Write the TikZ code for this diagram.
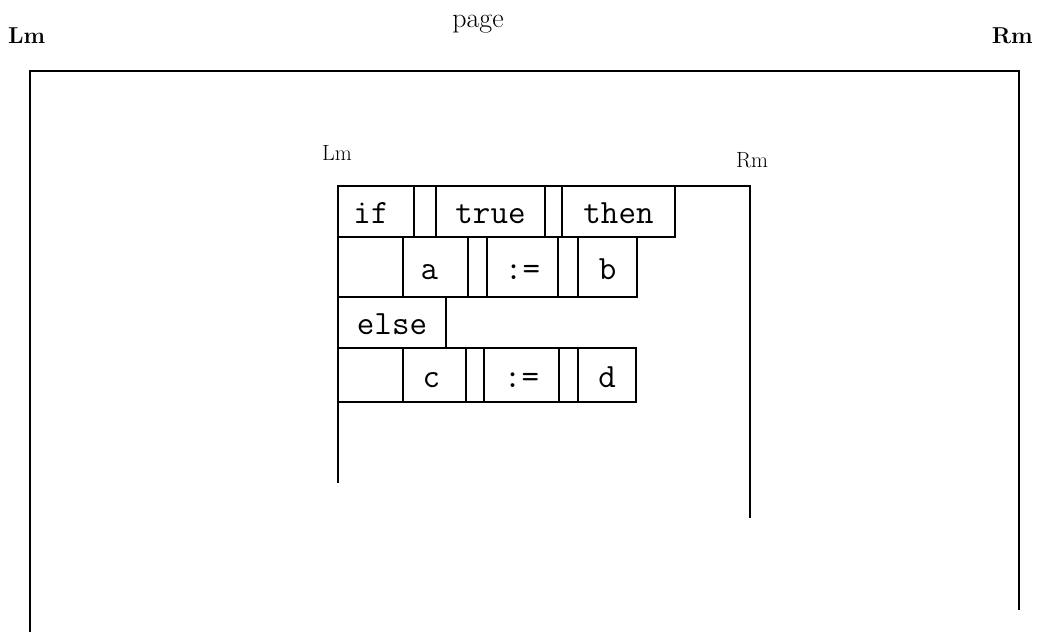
\documentclass[tikz,border=0pt]{standalone}
\usepackage{fontspec}
\begin{document}
\begin{tikzpicture}[x=1pt,y=-1pt,
  cell/.style={draw, line width=2.6pt, anchor=north west, inner sep=0pt, outer sep=0pt,
    text height=24pt, text depth=0pt, font=\ttfamily\fontsize{34}{34}\selectfont},
  frameline/.style={line width=2.8pt, line cap=butt, line join=miter},
  bigl/.style={font=\bfseries\fontsize{23}{23}\selectfont, inner sep=0pt},
  pagel/.style={font=\fontsize{28}{28}\selectfont, inner sep=0pt},
  smalll/.style={font=\fontsize{22}{22}\selectfont, inner sep=0pt}]
\useasboundingbox (0,0) rectangle (1037,632);
% outer page frame
\coordinate (oBL) at (30,632);
\coordinate (oTL) at (30,71);
\coordinate (oTR) at (1019,71);
\coordinate (oBR) at (1019,610);
\draw[frameline] (oBL) -- (oTL) -- (oTR) -- (oBR);
% inner frame
\coordinate (iBL) at (338,483);
\coordinate (iTL) at (338,186);
\coordinate (iTR) at (750,186);
\coordinate (iBR) at (750,518);
\draw[frameline, line width=2.6pt] (iBL) -- (iTL) -- (iTR) -- (iBR);
% labels
\node[bigl, anchor=base west] (Lmo) at (8,43) {Lm};
\node[pagel, anchor=base] (page) at (478,27) {page};
\node[bigl, anchor=base east] (Rmo) at (1033,43) {Rm};
\node[smalll, anchor=base west] (Lmi) at (322,160) {Lm};
\node[smalll, anchor=base west] (Rmi) at (736,167) {Rm};
% row 1
\node[cell, minimum width=76pt, minimum height=51pt] (if) at (338,186) {\hspace*{-10pt}if};
\node[cell, minimum width=22pt, minimum height=51pt] (g1) at (414,186) {};
\node[cell, minimum width=109pt, minimum height=51pt] (true) at (436,186) {true};
\node[cell, minimum width=17pt, minimum height=51pt] (g2) at (545,186) {};
\node[cell, minimum width=113pt, minimum height=51pt] (then) at (562,186) {then};
% row 2
\node[cell, minimum width=65pt, minimum height=60pt] (e1) at (338,237) {};
\node[cell, minimum width=65pt, minimum height=60pt] (a) at (403,237) {\hspace*{-12pt}a};
\node[cell, minimum width=19pt, minimum height=60pt] (g3) at (468,237) {};
\node[cell, minimum width=71pt, minimum height=60pt] (as1) at (487,237) {:=};
\node[cell, minimum width=20pt, minimum height=60pt] (g4) at (558,237) {};
\node[cell, minimum width=59pt, minimum height=60pt] (b) at (578,237) {b};
% row 3
\node[cell, minimum width=108pt, minimum height=51pt] (else) at (338,297) {else};
% row 4
\node[cell, minimum width=65pt, minimum height=54pt] (e2) at (338,348) {};
\node[cell, minimum width=63pt, minimum height=54pt] (c) at (403,348) {\hspace*{-6pt}c};
\node[cell, minimum width=18pt, minimum height=54pt] (g5) at (466,348) {};
\node[cell, minimum width=75pt, minimum height=54pt] (as2) at (484,348) {:=};
\node[cell, minimum width=19pt, minimum height=54pt] (g6) at (559,348) {};
\node[cell, minimum width=58pt, minimum height=54pt] (d) at (578,348) {d};
\end{tikzpicture}
\end{document}
